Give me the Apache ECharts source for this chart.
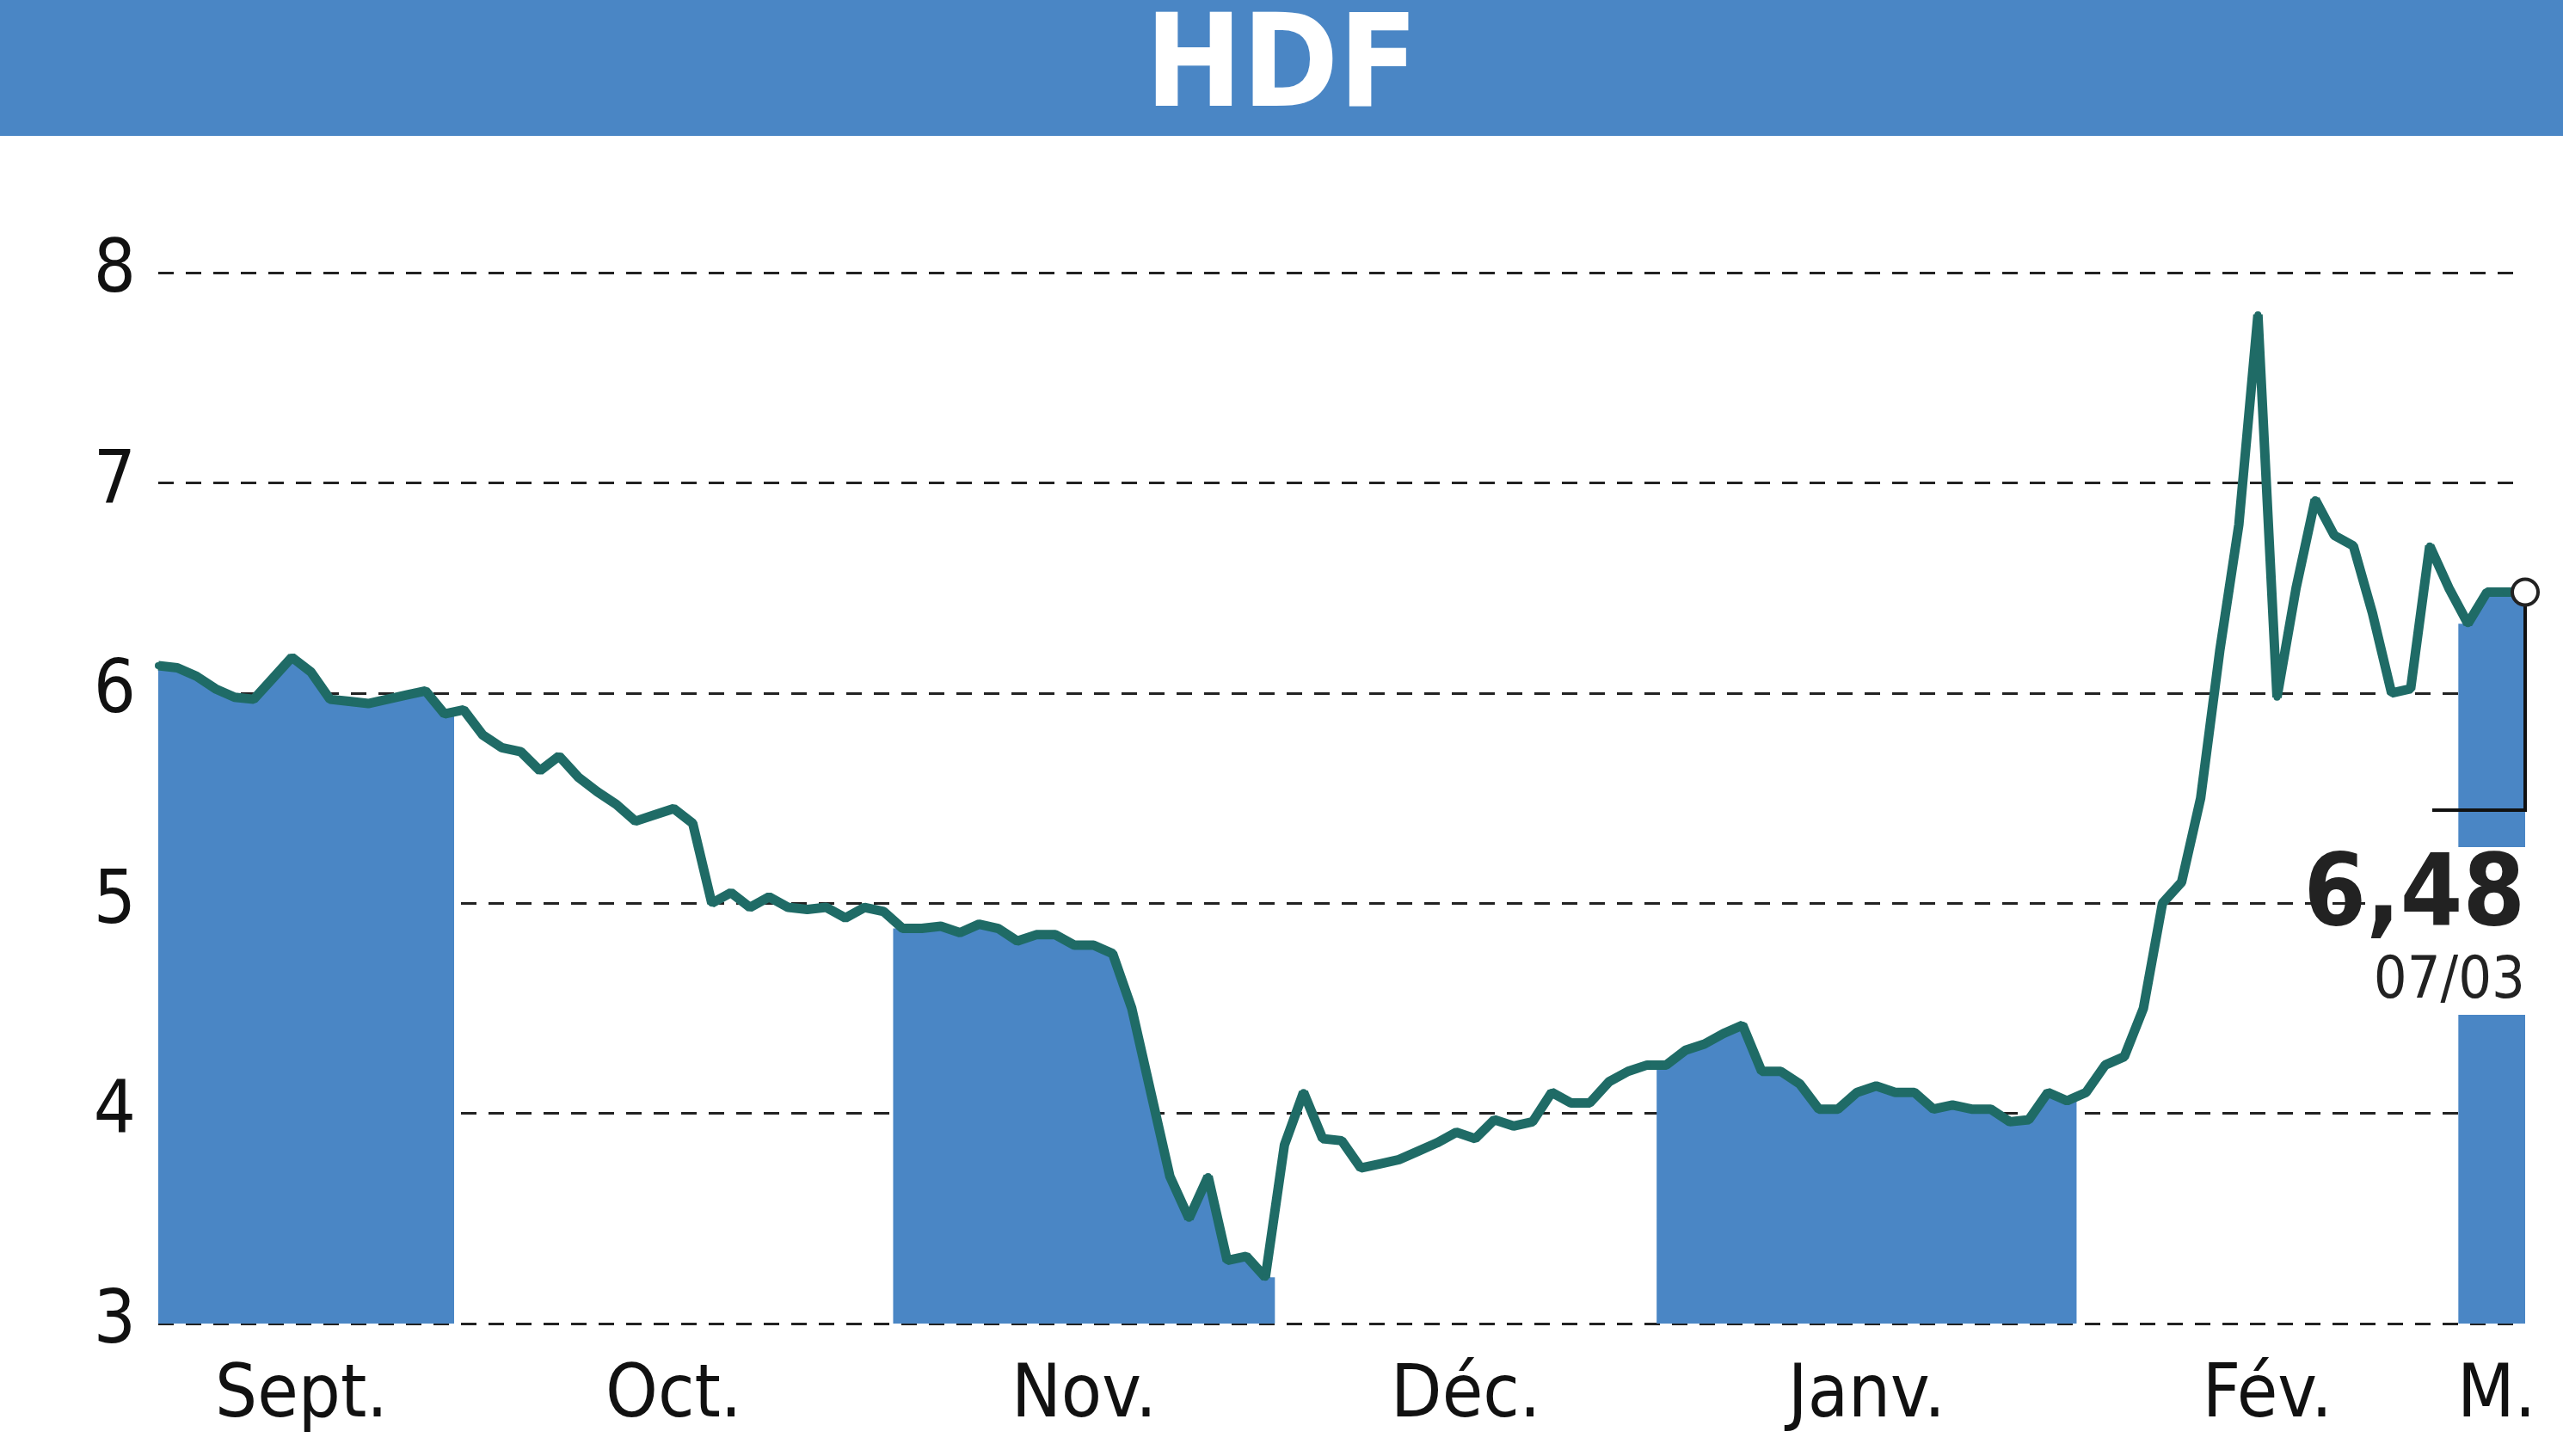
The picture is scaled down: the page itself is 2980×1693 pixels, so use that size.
<!DOCTYPE html>
<html><head><meta charset="utf-8">
<script src="https://cdn.jsdelivr.net/npm/echarts@6/dist/echarts.min.js"></script>
<style>html,body{margin:0;padding:0;background:#fff}#c{width:2980px;height:1693px}</style>
</head><body><div id="c"></div>
<script>
const title = "HDF";
const months = ["Sept.","Oct.","Nov.","Déc.","Janv.","Fév.","M."];
const sept = [6.13,6.12,6.08,6.02,5.98,5.97,6.07,6.17,6.1,5.97,5.96,5.95,5.97,5.99,6.01,5.9];
const oct = [5.92,5.8,5.74,5.72,5.63,5.7,5.6,5.53,5.47,5.39,5.42,5.45,5.38,5.0,5.05,4.98,5.03,4.98,4.97,4.98,4.93,4.98,4.96];
const nov = [4.88,4.88,4.89,4.86,4.9,4.88,4.82,4.85,4.85,4.8,4.8,4.76,4.5,4.1,3.7,3.5,3.7,3.3,3.32,3.22];
const dec = [3.85,4.1,3.88,3.87,3.74,3.76,3.78,3.82,3.86,3.91,3.88,3.97,3.94,3.96,4.1,4.05,4.05,4.15,4.2,4.23];
const jan = [4.23,4.3,4.33,4.38,4.42,4.2,4.2,4.14,4.02,4.02,4.1,4.13,4.1,4.1,4.02,4.04,4.02,4.02,3.96,3.97,4.1,4.06];
const feb = [4.1,4.23,4.27,4.5,5.0,5.1,5.5,6.2,6.8,7.8,5.98,6.5,6.92,6.75,6.7,6.38,6.0,6.02,6.7,6.5];
const mar = [6.33,6.48,6.48,6.48];
const yTicks = [3,4,5,6,7,8];
const lastLabel = "6,48", lastDate = "07/03";

const groups = [sept,oct,nov,dec,jan,feb,mar];
const line = [], starts = [];
let idx = 0;
groups.forEach(g=>{ starts.push(idx); g.forEach(v=>{ line.push([idx,v]); idx++; }); });
const N = line.length;
const band = [];
groups.forEach((g,gi)=>{
  const s = starts[gi];
  if (gi%2===0) {
    band.push([Math.max(0,s-0.5), g[0]]);
    g.forEach((v,k)=>band.push([s+k,v]));
    band.push([Math.min(N-1,s+g.length-0.5), g[g.length-1]]);
  }
  band.push([s+g.length-0.5, null]);
});
const ch = echarts.init(document.getElementById('c'));
const F = "'Liberation Sans Narrow','DejaVu Sans Condensed',sans-serif";
const head = [{type:'rect',shape:{x:0,y:0,width:2980,height:158},style:{fill:'#4a86c5'}},
           {type:'text',x:1490,y:84,style:{text:title,fill:'#fff',font:"bold 150px "+F,textAlign:'center',textVerticalAlign:'middle'}}];
ch.setOption({
  animation:false,
  grid:{left:184,right:44,top:317,bottom:154},
  xAxis:{type:'value',min:0,max:N-1,axisLine:{show:false},axisTick:{show:false},axisLabel:{show:false},splitLine:{show:false}},
  yAxis:{type:'value',min:3,max:8,interval:1,axisLine:{show:false},axisTick:{show:false},
    axisLabel:{fontSize:86,fontFamily:F,color:'#111',margin:26},
    splitLine:{lineStyle:{color:'#222',type:[18,14],width:3}}},
  series:[
    {type:'line',data:band,symbol:'none',lineStyle:{width:0},areaStyle:{color:'#4a86c5',opacity:1,origin:'start'},connectNulls:false,z:1},
    {type:'line',data:line,symbol:'circle',symbolSize:8,itemStyle:{color:'#1f6b66'},lineStyle:{color:'#1f6b66',width:11},z:3}
  ]
});
const g = [];
groups.forEach((gr,gi)=>{
  const c = starts[gi] + (gr.length-1)/2;
  const p = ch.convertToPixel({gridIndex:0},[c,3]);
  g.push({type:'text',x:p[0],y:1625,style:{text:months[gi],font:"86px "+F,fill:'#111',textAlign:'center',textVerticalAlign:'middle'}});
});
const lp = ch.convertToPixel({gridIndex:0},[N-1,line[N-1][1]]);
g.push({type:'rect',shape:{x:2750,y:985,width:200,height:195},style:{fill:'#fff'},z:10});
g.push({type:'polyline',shape:{points:[[lp[0],lp[1]],[lp[0],942],[2828,942]]},style:{stroke:'#111',lineWidth:4,fill:null},z:11});
g.push({type:'text',x:lp[0],y:1045,style:{text:lastLabel,font:"bold 116px "+F,fill:'#222',textAlign:'right',textVerticalAlign:'middle'},z:11});
g.push({type:'text',x:lp[0],y:1142,style:{text:lastDate,font:"68px "+F,fill:'#222',textAlign:'right',textVerticalAlign:'middle'},z:11});
g.push({type:'circle',shape:{cx:lp[0],cy:lp[1],r:15},style:{fill:'#fff',stroke:'#222',lineWidth:4},z:12});
ch.setOption({graphic:head.concat(g)});
</script></body></html>
